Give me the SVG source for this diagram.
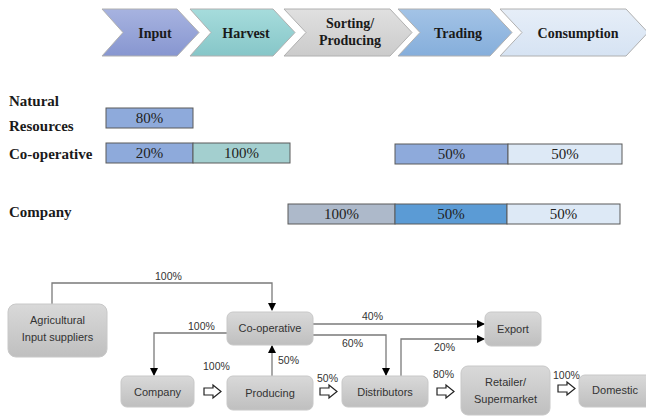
<svg xmlns="http://www.w3.org/2000/svg" width="646" height="416" viewBox="0 0 646 416">
<defs>
<linearGradient id="gIn" x1="0" y1="0" x2="0" y2="1"><stop offset="0" stop-color="#a7b3e0"/><stop offset="1" stop-color="#8796d0"/></linearGradient>
<linearGradient id="gHa" x1="0" y1="0" x2="0" y2="1"><stop offset="0" stop-color="#a6dcdc"/><stop offset="1" stop-color="#86c6c8"/></linearGradient>
<linearGradient id="gSo" x1="0" y1="0" x2="0" y2="1"><stop offset="0" stop-color="#e0e0e0"/><stop offset="1" stop-color="#cbcbcb"/></linearGradient>
<linearGradient id="gTr" x1="0" y1="0" x2="0" y2="1"><stop offset="0" stop-color="#a3c3e6"/><stop offset="1" stop-color="#85aedb"/></linearGradient>
<linearGradient id="gCo" x1="0" y1="0" x2="0" y2="1"><stop offset="0" stop-color="#e6eef8"/><stop offset="1" stop-color="#d6e3f3"/></linearGradient>
<linearGradient id="gBox" x1="0" y1="0" x2="0" y2="1"><stop offset="0" stop-color="#d9d9d9"/><stop offset="1" stop-color="#bfbfbf"/></linearGradient>
<marker id="ah" markerWidth="8" markerHeight="8" refX="7" refY="4" orient="auto" markerUnits="userSpaceOnUse"><path d="M0,0 L8,4 L0,8 Z" fill="#000"/></marker>
</defs>
<style>
.chev{stroke:#b0b0b0;stroke-width:1}
.ct{font-family:"Liberation Serif",serif;font-weight:bold;font-size:14px;text-anchor:middle;fill:#1a1a1a}
.lb{font-family:"Liberation Serif",serif;font-weight:bold;font-size:15px;fill:#1a1a1a}
.bar{stroke:#5a5a5a;stroke-width:1}
.bt{font-family:"Liberation Serif",serif;font-size:15px;text-anchor:middle;fill:#222}
.box{fill:url(#gBox);stroke:#c8c8c8;stroke-width:1}
.nt{font-family:"Liberation Sans",sans-serif;font-size:11px;text-anchor:middle;fill:#333}
.ln{fill:none;stroke:#7a7a7a;stroke-width:1.3}
.pc{font-family:"Liberation Sans",sans-serif;font-size:10.5px;fill:#333}
.ha{fill:#fff;stroke:#222;stroke-width:1.2}
</style>

<g id="chevrons">
<g id="chev-input"><polygon class="chev" fill="url(#gIn)" points="102,9 177,9 199,32.5 177,56 102,56 123,32.5"/><text class="ct" x="155" y="38">Input</text></g>
<g id="chev-harvest"><polygon class="chev" fill="url(#gHa)" points="190,9 273,9 295,32.5 273,56 190,56 211,32.5"/><text class="ct" x="246" y="38">Harvest</text></g>
<g id="chev-sorting"><polygon class="chev" fill="url(#gSo)" points="284,9 390,9 412,32.5 390,56 284,56 306,32.5"/><text class="ct" x="350" y="28">Sorting/</text><text class="ct" x="350" y="45">Producing</text></g>
<g id="chev-trading"><polygon class="chev" fill="url(#gTr)" points="398,9 490,9 512,32.5 490,56 398,56 420,32.5"/><text class="ct" x="458" y="38">Trading</text></g>
<g id="chev-consumption"><polygon class="chev" fill="url(#gCo)" points="500,9 626,9 648,32.5 626,56 500,56 522,32.5"/><text class="ct" x="578" y="38">Consumption</text></g>
</g>

<g id="row-labels">
<text class="lb" x="9" y="106">Natural</text>
<text class="lb" x="9" y="131">Resources</text>
<text class="lb" x="9" y="159">Co-operative</text>
<text class="lb" x="9" y="217">Company</text>
</g>

<g id="bars">
<g id="bar-nr-80"><rect class="bar" x="106" y="108" width="87" height="20" fill="#8eaadb"/><text class="bt" x="149.5" y="123">80%</text></g>
<g id="bar-co-20"><rect class="bar" x="106" y="143" width="87" height="20" fill="#8eaadb"/><text class="bt" x="149.5" y="158">20%</text></g>
<g id="bar-co-100"><rect class="bar" x="193" y="143" width="97" height="20" fill="#a3cfcf"/><text class="bt" x="241.5" y="158">100%</text></g>
<g id="bar-co-50a"><rect class="bar" x="395" y="144" width="113" height="20" fill="#8eaadb"/><text class="bt" x="451.5" y="159">50%</text></g>
<g id="bar-co-50b"><rect class="bar" x="508" y="144" width="114" height="20" fill="#dde9f6"/><text class="bt" x="565" y="159">50%</text></g>
<g id="bar-cp-100"><rect class="bar" x="288" y="204" width="107" height="20" fill="#adb9ca"/><text class="bt" x="341.5" y="219">100%</text></g>
<g id="bar-cp-50a"><rect class="bar" x="395" y="204" width="112" height="20" fill="#5b9bd5"/><text class="bt" x="451" y="219">50%</text></g>
<g id="bar-cp-50b"><rect class="bar" x="507" y="204" width="113" height="20" fill="#dde9f6"/><text class="bt" x="563.5" y="219">50%</text></g>
</g>

<g id="connectors">
<polyline class="ln" points="52,304 52,283 272,283 272,310" marker-end="url(#ah)"/>
<text class="pc" x="155" y="280">100%</text>
<polyline class="ln" points="227,333 154,333 154,375" marker-end="url(#ah)"/>
<text class="pc" x="188" y="330">100%</text>
<polyline class="ln" points="272,376 272,346" marker-end="url(#ah)"/>
<text class="pc" x="278" y="364">50%</text>
<polyline class="ln" points="313,324 484,324" marker-end="url(#ah)"/>
<text class="pc" x="362" y="320">40%</text>
<polyline class="ln" points="313,335 386,335 386,375" marker-end="url(#ah)"/>
<text class="pc" x="342" y="347">60%</text>
<polyline class="ln" points="401,376 401,339 484,339" marker-end="url(#ah)"/>
<text class="pc" x="434" y="351">20%</text>
<polygon class="ha" points="204,388 213,388 213,385 221,391.5 213,398 213,395 204,395"/>
<text class="pc" x="203" y="370">100%</text>
<polygon class="ha" points="320,388 329,388 329,385 337,391.5 329,398 329,395 320,395"/>
<text class="pc" x="317" y="382">50%</text>
<polygon class="ha" points="437,388 446,388 446,385 454,391.5 446,398 446,395 437,395"/>
<text class="pc" x="433" y="378">80%</text>
<polygon class="ha" points="558,385 567,385 567,382 575,388.5 567,395 567,392 558,392"/>
<text class="pc" x="553" y="379">100%</text>
</g>

<g id="node-agri"><rect class="box" x="8" y="304" width="99" height="53" rx="8"/><text class="nt" x="57.5" y="324">Agricultural</text><text class="nt" x="57.5" y="341">Input suppliers</text></g>
<g id="node-coop"><rect class="box" x="227" y="312" width="86" height="33" rx="6"/><text class="nt" x="270" y="332">Co-operative</text></g>
<g id="node-company"><rect class="box" x="121" y="376" width="73" height="31" rx="6"/><text class="nt" x="157.5" y="396">Company</text></g>
<g id="node-producing"><rect class="box" x="227" y="376" width="86" height="34" rx="6"/><text class="nt" x="270" y="397">Producing</text></g>
<g id="node-export"><rect class="box" x="485" y="312" width="56" height="34" rx="6"/><text class="nt" x="513" y="333">Export</text></g>
<g id="node-distributors"><rect class="box" x="342" y="376" width="86" height="31" rx="6"/><text class="nt" x="385" y="396">Distributors</text></g>
<g id="node-retailer"><rect class="box" x="461" y="366" width="89" height="49" rx="7"/><text class="nt" x="505.5" y="386">Retailer/</text><text class="nt" x="505.5" y="403">Supermarket</text></g>
<g id="node-domestic"><rect class="box" x="579" y="375" width="75" height="32" rx="6"/><text class="nt" x="615" y="394">Domestic</text></g>
</svg>
